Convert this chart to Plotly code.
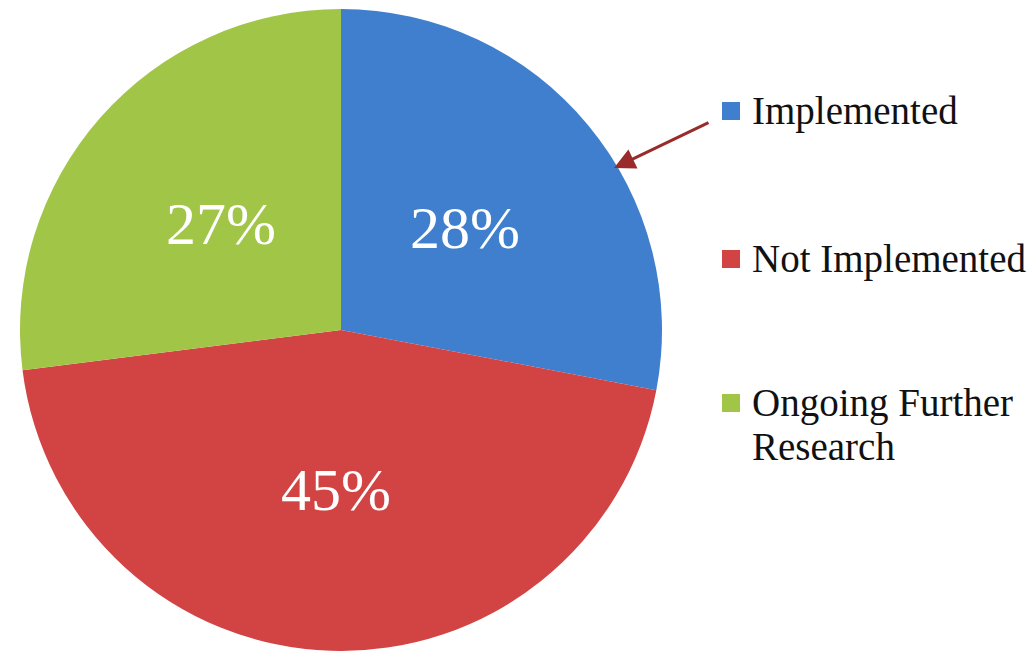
import math
import plotly.graph_objects as go

# Status breakdown
categories = ["Implemented", "Not Implemented", "Ongoing Further Research"]
shares = [28, 45, 27]
colors = ["#3F7FCD", "#D24444", "#A1C547"]
legend_lines = [["Implemented"], ["Not Implemented"], ["Ongoing Further", "Research"]]

W, H = 1034, 651
CX, CY, R = 341, 330, 321  # pie centre and radius in pixels (from top-left)

fig = go.Figure()
fig.add_trace(go.Pie(
    labels=categories,
    values=shares,
    sort=False,
    direction="clockwise",
    rotation=0,
    marker=dict(colors=colors, line=dict(width=0)),
    textinfo="none",
    hoverinfo="label+percent",
    domain=dict(x=[(CX - R) / W, (CX + R) / W],
                y=[(H - CY - R) / H, (H - CY + R) / H]),
))

annotations = []
shapes = []

# Percentage labels at the middle of each slice
total = sum(shares)
cum = 0.0
for v in shares:
    mid = (cum + v / 2) / total * 2 * math.pi
    cum += v
    d = 0.5 * R
    px = CX + d * math.sin(mid)
    py = CY - d * math.cos(mid)
    annotations.append(dict(
        x=px / W, y=1 - py / H, xref="paper", yref="paper",
        text=f"{round(v / total * 100)}%", showarrow=False,
        xanchor="center", yanchor="middle",
        font=dict(family="Liberation Serif", size=60, color="white"),
    ))

# Legend: colour squares with labels
legend_y = [111, 259, 403]
line_gap = 43
for color, lines, ly in zip(colors, legend_lines, legend_y):
    shapes.append(dict(
        type="rect", xref="paper", yref="paper",
        x0=722 / W, x1=740 / W, y0=1 - (ly + 9) / H, y1=1 - (ly - 9) / H,
        fillcolor=color, line=dict(width=0),
    ))
    for i, txt in enumerate(lines):
        annotations.append(dict(
            x=750 / W, y=1 - (ly + i * line_gap) / H, xref="paper", yref="paper",
            text=txt, showarrow=False, xanchor="left", yanchor="middle",
            font=dict(family="Liberation Serif", size=39, color="#111111"),
        ))

# Arrow pointing from the legend to the Implemented slice
annotations.append(dict(
    x=614 / W, y=1 - 168 / H, xref="paper", yref="paper",
    ax=710 - 614, ay=122 - 168, axref="pixel", ayref="pixel",
    text="", showarrow=True, arrowhead=2, arrowsize=1.4, arrowwidth=3,
    arrowcolor="#992B2B",
))

fig.update_layout(
    width=W, height=H,
    margin=dict(l=0, r=0, t=0, b=0),
    paper_bgcolor="white", plot_bgcolor="white",
    showlegend=False,
    annotations=annotations,
    shapes=shapes,
)

fig.write_html("out.html")
